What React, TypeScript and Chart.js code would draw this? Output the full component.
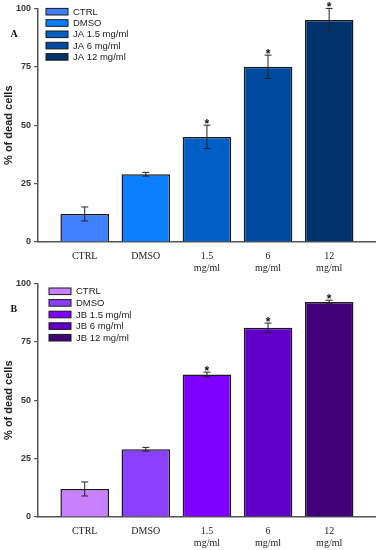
import React, { useEffect, useRef } from "react";
import { Chart, registerables } from "chart.js";

Chart.register(...registerables);

// ---- data ----
const categories = ["CTRL", "DMSO", "1.5 mg/ml", "6 mg/ml", "12 mg/ml"];
const tickLabels: string[][] = [["CTRL"], ["DMSO"], ["1.5", "mg/ml"], ["6", "mg/ml"], ["12", "mg/ml"]];
const yTicks = [0, 25, 50, 75, 100];

const legendA = ["CTRL", "DMSO", "JA 1.5 mg/ml", "JA 6 mg/ml", "JA 12 mg/ml"];
const valuesA = [12, 29, 45, 75, 95];
const errorsA = [3, 0.8, 5, 5, 5];
const starsA = [false, false, true, true, true];
const colorsA = ["#4080ff", "#0a80ff", "#0060c8", "#004ba0", "#00336e"];

const legendB = ["CTRL", "DMSO", "JB 1.5 mg/ml", "JB 6 mg/ml", "JB 12 mg/ml"];
const valuesB = [12, 29, 61, 81, 92];
const errorsB = [3, 0.8, 1, 2, 0.8];
const starsB = [false, false, true, true, true];
const colorsB = ["#c880ff", "#8c40ff", "#8000ff", "#6000c8", "#400078"];

const SANS = "'Liberation Sans', Arial, sans-serif";
const SERIF = "'Liberation Serif', 'Times New Roman', serif";

type PanelProps = {
  letter: string;
  legend: string[];
  values: number[];
  errors: number[];
  stars: boolean[];
  colors: string[];
  legendX: number;
  legendY: number;
  legendStep: number;
};

function Panel(p: PanelProps) {
  const ref = useRef<HTMLCanvasElement | null>(null);
  useEffect(() => {
    if (!ref.current) return;
    const overlay = {
      id: "overlay",
      afterDatasetsDraw(chart: any) {
        const ctx = chart.ctx;
        const ys = chart.scales.y;
        const meta = chart.getDatasetMeta(0);
        ctx.save();
        meta.data.forEach((bar: any, i: number) => {
          const x = bar.x;
          const v = p.values[i];
          const e = p.errors[i];
          const yt = ys.getPixelForValue(v + e);
          const yb = ys.getPixelForValue(v - e);
          ctx.strokeStyle = "#222";
          ctx.lineWidth = 1;
          ctx.beginPath();
          ctx.moveTo(x, yt);
          ctx.lineTo(x, yb);
          ctx.moveTo(x - 3.5, yt);
          ctx.lineTo(x + 3.5, yt);
          ctx.moveTo(x - 3.5, yb);
          ctx.lineTo(x + 3.5, yb);
          ctx.stroke();
          if (p.stars[i]) {
            ctx.fillStyle = "#111";
            ctx.font = `bold 12px ${SANS}`;
            ctx.textAlign = "center";
            ctx.textBaseline = "alphabetic";
            ctx.fillText("*", x, yt + 2.4);
          }
        });
        ctx.restore();
      },
      afterDraw(chart: any) {
        const ctx = chart.ctx;
        ctx.save();
        // panel letter
        ctx.fillStyle = "#111";
        ctx.font = `bold 10px ${SERIF}`;
        ctx.textAlign = "left";
        ctx.textBaseline = "alphabetic";
        ctx.fillText(p.letter, 10.5, 37);
        // legend
        ctx.font = `9.5px ${SANS}`;
        ctx.textBaseline = "middle";
        p.legend.forEach((lab, i) => {
          const cy = p.legendY + i * p.legendStep;
          ctx.fillStyle = p.colors[i];
          ctx.fillRect(p.legendX, cy - 3.3, 22, 6.6);
          ctx.strokeStyle = "#1a1a1a";
          ctx.lineWidth = 1;
          ctx.strokeRect(p.legendX, cy - 3.3, 22, 6.6);
          ctx.fillStyle = "#222";
          ctx.fillText(lab, p.legendX + 27, cy + 0.5);
        });
        ctx.restore();
      },
    };
    const chart = new Chart(ref.current, {
      type: "bar",
      data: {
        labels: categories,
        datasets: [
          {
            label: p.letter,
            data: p.values.map((v, i) => ({ x: i, y: v })),
            backgroundColor: p.colors,
            borderColor: "#1a1a1a",
            borderWidth: 1.5,
            barPercentage: 0.795,
            categoryPercentage: 1,
          },
        ],
      },
      options: {
        animation: false,
        responsive: true,
        maintainAspectRatio: false,
        layout: { padding: { top: 8, right: 3, left: 0, bottom: 0 } },
        plugins: { legend: { display: false }, tooltip: { enabled: false } },
        scales: {
          x: {
            type: "linear",
            offset: false,
            min: -0.764,
            max: 4.75,
            grid: { display: false, drawTicks: false },
            border: { display: true, color: "#555", width: 1.5 },
            afterBuildTicks: (axis: any) => {
              axis.ticks = categories.map((_, i) => ({ value: i }));
            },
            afterFit: (axis: any) => {
              axis.height = 33;
            },
            ticks: {
              autoSkip: false,
              maxRotation: 0,
              padding: 8,
              color: "#222",
              font: { family: SERIF, size: 10, lineHeight: 1.25 },
              callback: (value: any) => tickLabels[Math.round(Number(value))] ?? "",
            },
          },
          y: {
            min: 0,
            max: 100,
            afterBuildTicks: (axis: any) => {
              axis.ticks = yTicks.map((v) => ({ value: v }));
            },
            afterFit: (axis: any) => {
              axis.width = 38;
            },
            grid: { display: true, drawOnChartArea: false, drawTicks: true, tickLength: 4, color: "#555", lineWidth: 1.2 },
            border: { display: true, color: "#555", width: 1.5 },
            ticks: {
              padding: 3,
              color: "#333",
              font: { family: SANS, size: 9, weight: "bold" },
            },
            title: {
              display: true,
              text: "% of dead cells",
              color: "#222",
              font: { family: SANS, size: 11, weight: "bold" },
              padding: { top: 2, bottom: 0 },
            },
          },
        },
      },
      plugins: [overlay],
    } as any);
    return () => chart.destroy();
  }, []);
  return (
    <div style={{ position: "relative", width: 378, height: 275 }}>
      <canvas ref={ref} />
    </div>
  );
}

export default function App() {
  return (
    <div style={{ position: "fixed", left: 0, top: 0, width: 378, height: 550, background: "#fff" }}>
      <Panel letter="A" legend={legendA} values={valuesA} errors={errorsA} stars={starsA} colors={colorsA} legendX={46} legendY={11.7} legendStep={11.3} />
      <Panel letter="B" legend={legendB} values={valuesB} errors={errorsB} stars={starsB} colors={colorsB} legendX={49} legendY={16.3} legendStep={11.6} />
    </div>
  );
}
